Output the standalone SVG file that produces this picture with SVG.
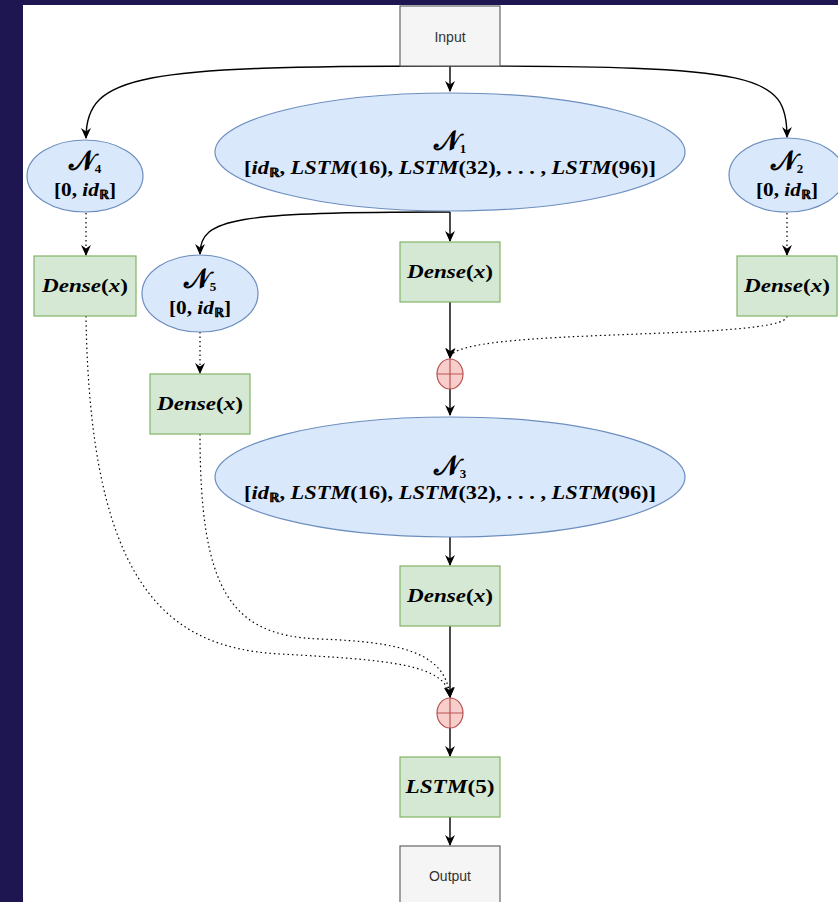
<svg xmlns="http://www.w3.org/2000/svg" width="838" height="902" viewBox="0 0 838 902">
<defs>
<marker id="arr" viewBox="0 0 10 10" refX="9" refY="5" markerWidth="11" markerHeight="11" orient="auto" markerUnits="userSpaceOnUse">
<path d="M0,0.5 L10,5 L0,9.5 L3,5 Z" fill="#000"/>
</marker>
<style>
.ell{fill:#dae8fc;stroke:#6c8ebf;stroke-width:1.2}
.grn{fill:#d5e8d4;stroke:#82b366;stroke-width:1.2}
.gry{fill:#f5f5f5;stroke:#666;stroke-width:1.2}
.red{fill:#f8cecc;stroke:#b85450;stroke-width:1.2}
.lab{font-family:"Helvetica","Liberation Sans",Arial,sans-serif;font-size:14px;fill:#333;text-anchor:middle}
.m{font-family:"Liberation Serif","DejaVu Serif",serif;font-weight:bold;fill:#000;text-anchor:middle;font-size:19px}
.i{font-style:italic}
.cal{font-size:27px;font-style:normal}
.sub{font-size:13px}
.sol{fill:none;stroke:#000;stroke-width:1.4}
.dot{fill:none;stroke:#000;stroke-width:1.2;stroke-dasharray:1.5 3}
</style>
</defs>
<rect x="0" y="0" width="838" height="902" fill="#1d1650"/>
<rect x="23" y="5" width="815" height="897" fill="#fff"/>

<g id="connectors">
<path class="sol" d="M450,66 L450,91" marker-end="url(#arr)"/>
<path class="sol" d="M450,66 C140,66 86,74 86,138" marker-end="url(#arr)"/>
<path class="sol" d="M450,66 C760,66 787,74 787,137" marker-end="url(#arr)"/>
<path class="sol" d="M450,212 C235,212 200,218 200,254" marker-end="url(#arr)"/>
<path class="sol" d="M450,212 L450,241" marker-end="url(#arr)"/>
<path class="dot" d="M86,213 L86,255" marker-end="url(#arr)"/>
<path class="dot" d="M787,213 L787,255" marker-end="url(#arr)"/>
<path class="dot" d="M200,332 L200,373" marker-end="url(#arr)"/>
<path class="sol" d="M450,302 L450,358" marker-end="url(#arr)"/>
<path class="dot" d="M787,316 C787,342 452,326 450,358" marker-end="url(#arr)"/>
<path class="sol" d="M450,389 L450,415" marker-end="url(#arr)"/>
<path class="sol" d="M450,537 L450,565" marker-end="url(#arr)"/>
<path class="sol" d="M450,626 L450,697" marker-end="url(#arr)"/>
<path class="dot" d="M86,316 C90,590 170,648 280,654 C390,660 446,664 450,697" marker-end="url(#arr)"/>
<path class="dot" d="M200,434 C200,590 230,636 320,639 C400,642 446,652 450,697" marker-end="url(#arr)"/>
<path class="sol" d="M450,728 L450,756" marker-end="url(#arr)"/>
<path class="sol" d="M450,817 L450,845" marker-end="url(#arr)"/>
</g>

<g id="input">
<rect class="gry" x="400" y="6" width="100" height="60"/>
<text class="lab" x="450" y="42">Input</text>
</g>

<g id="n1">
<ellipse class="ell" cx="450" cy="152" rx="235" ry="59"/>
<text class="m" x="450" y="150"><tspan class="cal">𝒩</tspan><tspan class="sub" dy="3">1</tspan></text>
<text class="m" x="450" y="174" textLength="412" lengthAdjust="spacingAndGlyphs">[<tspan class="i">id</tspan><tspan class="sub" dy="3">ℝ</tspan><tspan dy="-3">, </tspan><tspan class="i">LSTM</tspan>(16), <tspan class="i">LSTM</tspan>(32), . . . , <tspan class="i">LSTM</tspan>(96)]</text>
</g>

<g id="n4">
<ellipse class="ell" cx="85" cy="176" rx="58" ry="36"/>
<text class="m" x="85" y="170"><tspan class="cal">𝒩</tspan><tspan class="sub" dy="3">4</tspan></text>
<text class="m" x="85" y="196" textLength="62" lengthAdjust="spacingAndGlyphs">[0, <tspan class="i">id</tspan><tspan class="sub" dy="3">ℝ</tspan><tspan dy="-3">]</tspan></text>
</g>

<g id="n2">
<ellipse class="ell" cx="787" cy="175" rx="58" ry="37"/>
<text class="m" x="787" y="170"><tspan class="cal">𝒩</tspan><tspan class="sub" dy="3">2</tspan></text>
<text class="m" x="787" y="196" textLength="62" lengthAdjust="spacingAndGlyphs">[0, <tspan class="i">id</tspan><tspan class="sub" dy="3">ℝ</tspan><tspan dy="-3">]</tspan></text>
</g>

<g id="n5">
<ellipse class="ell" cx="200" cy="293.5" rx="58" ry="38.5"/>
<text class="m" x="200" y="288"><tspan class="cal">𝒩</tspan><tspan class="sub" dy="3">5</tspan></text>
<text class="m" x="200" y="314" textLength="62" lengthAdjust="spacingAndGlyphs">[0, <tspan class="i">id</tspan><tspan class="sub" dy="3">ℝ</tspan><tspan dy="-3">]</tspan></text>
</g>

<g id="dense4">
<rect class="grn" x="34" y="256" width="102" height="60"/>
<text class="m" x="85" y="292" textLength="86" lengthAdjust="spacingAndGlyphs"><tspan class="i">Dense</tspan>(<tspan class="i">x</tspan>)</text>
</g>

<g id="dense1">
<rect class="grn" x="400" y="242" width="100" height="60"/>
<text class="m" x="450" y="278" textLength="86" lengthAdjust="spacingAndGlyphs"><tspan class="i">Dense</tspan>(<tspan class="i">x</tspan>)</text>
</g>

<g id="dense2">
<rect class="grn" x="737" y="256" width="100" height="60"/>
<text class="m" x="787" y="292" textLength="86" lengthAdjust="spacingAndGlyphs"><tspan class="i">Dense</tspan>(<tspan class="i">x</tspan>)</text>
</g>

<g id="dense5">
<rect class="grn" x="150" y="374" width="100" height="60"/>
<text class="m" x="200" y="410" textLength="86" lengthAdjust="spacingAndGlyphs"><tspan class="i">Dense</tspan>(<tspan class="i">x</tspan>)</text>
</g>

<g id="sum1">
<ellipse class="red" cx="450" cy="374" rx="13" ry="15"/>
<path d="M437,374 L463,374 M450,359 L450,389" stroke="#b85450" stroke-width="1.2"/>
</g>

<g id="n3">
<ellipse class="ell" cx="450" cy="477" rx="235" ry="60"/>
<text class="m" x="450" y="475"><tspan class="cal">𝒩</tspan><tspan class="sub" dy="3">3</tspan></text>
<text class="m" x="450" y="499" textLength="412" lengthAdjust="spacingAndGlyphs">[<tspan class="i">id</tspan><tspan class="sub" dy="3">ℝ</tspan><tspan dy="-3">, </tspan><tspan class="i">LSTM</tspan>(16), <tspan class="i">LSTM</tspan>(32), . . . , <tspan class="i">LSTM</tspan>(96)]</text>
</g>

<g id="dense3">
<rect class="grn" x="400" y="566" width="100" height="60"/>
<text class="m" x="450" y="602" textLength="86" lengthAdjust="spacingAndGlyphs"><tspan class="i">Dense</tspan>(<tspan class="i">x</tspan>)</text>
</g>

<g id="sum2">
<ellipse class="red" cx="450" cy="713" rx="13" ry="15"/>
<path d="M437,713 L463,713 M450,698 L450,728" stroke="#b85450" stroke-width="1.2"/>
</g>

<g id="lstm5">
<rect class="grn" x="400" y="757" width="100" height="60"/>
<text class="m" x="450" y="793" textLength="89" lengthAdjust="spacingAndGlyphs"><tspan class="i">LSTM</tspan>(5)</text>
</g>

<g id="output">
<rect class="gry" x="400" y="846" width="100" height="60"/>
<text class="lab" x="450" y="881">Output</text>
</g>
</svg>
